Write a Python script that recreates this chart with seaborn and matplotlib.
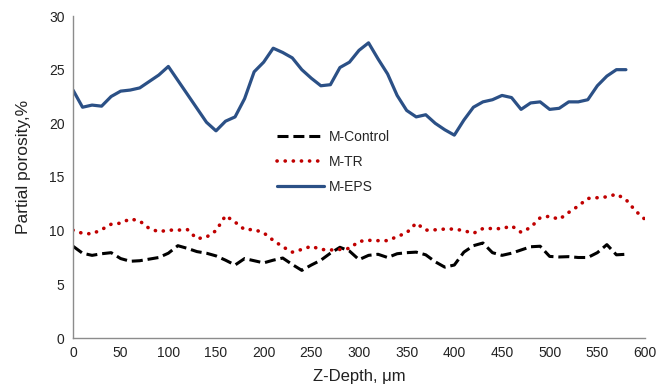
import numpy as np
import pandas as pd
import matplotlib
matplotlib.use("Agg")
import matplotlib.pyplot as plt
import seaborn as sns

sns.set_theme(style="white")
plt.rcParams['font.family'] = ['Liberation Sans', 'DejaVu Sans']

depth_eps = list(range(0, 590, 10))
eps = [23.1, 21.5, 21.7, 21.6, 22.5, 23.0, 23.1, 23.3, 23.9, 24.5,
       25.3, 24.0, 22.7, 21.4, 20.1, 19.3, 20.2, 20.6, 22.3, 24.8,
       25.7, 27.0, 26.6, 26.1, 25.0, 24.2, 23.5, 23.6, 25.2, 25.7,
       26.8, 27.5, 26.0, 24.6, 22.6, 21.2, 20.6, 20.8, 20.0, 19.4,
       18.9, 20.3, 21.5, 22.0, 22.2, 22.6, 22.4, 21.3, 21.9, 22.0,
       21.3, 21.4, 22.0, 22.0, 22.2, 23.5, 24.4, 25.0, 25.0]

depth_tr = list(range(0, 610, 10))
tr = [10.05, 9.75, 9.7, 10.1, 10.6, 10.7, 11.1, 10.9, 10.2, 9.9,
      10.05, 10.05, 10.1, 9.25, 9.4, 10.0, 11.4, 10.8, 10.1, 10.1,
      9.8, 9.1, 8.5, 8.0, 8.25, 8.55, 8.25, 8.2, 8.25, 8.35,
      9.0, 9.1, 9.07, 9.07, 9.45, 9.8, 10.7, 10.05, 10.08, 10.15,
      10.15, 10.0, 9.75, 10.2, 10.2, 10.18, 10.45, 9.85, 10.3, 11.2,
      11.35, 11.05, 11.7, 12.3, 13.0, 13.07, 13.15, 13.4, 12.9, 11.85,
      11.05]

depth_ctrl = list(range(0, 590, 10))
ctrl = [8.55, 7.9, 7.7, 7.85, 7.95, 7.4, 7.15, 7.2, 7.35, 7.5,
        7.9, 8.6, 8.35, 8.05, 7.9, 7.65, 7.25, 6.8, 7.4, 7.2,
        7.0, 7.25, 7.45, 6.85, 6.3, 6.8, 7.25, 7.9, 8.45, 8.1,
        7.3, 7.7, 7.8, 7.5, 7.85, 7.95, 8.0, 7.75, 7.1, 6.6,
        6.8, 8.0, 8.6, 8.85, 7.95, 7.7, 7.9, 8.2, 8.5, 8.55,
        7.6, 7.55, 7.58, 7.5, 7.5, 7.95, 8.7, 7.75, 7.8]

x_ticks = list(range(0, 650, 50))
y_ticks = list(range(0, 35, 5))

fig = plt.figure(figsize=(6.65, 3.91), dpi=100)
ax = fig.add_axes([73/665, 1-338/391, (645-73)/665, (338-16)/391])

sns.lineplot(x=depth_ctrl, y=ctrl, ax=ax, color='black', lw=2.2,
             label='M-Control', linestyle=(0, (3.6, 1.6)))
sns.lineplot(x=depth_tr, y=tr, ax=ax, color='#C00000', lw=2.6,
             label='M-TR', linestyle=(0, (0.05, 2.2)), dash_capstyle='round')
sns.lineplot(x=depth_eps, y=eps, ax=ax, color='#2B5086', lw=2.3,
             label='M-EPS', solid_capstyle='round')

ax.set_xlim(0, 600)
ax.set_ylim(0, 30)
ax.set_xticks(x_ticks)
ax.set_yticks(y_ticks)
ax.tick_params(axis='both', labelsize=10, length=0, pad=6, colors='#222222')
for s in ['top', 'right']:
    ax.spines[s].set_visible(False)
for s in ['left', 'bottom']:
    ax.spines[s].set_color('#8c8c8c')
    ax.spines[s].set_linewidth(1.0)

ax.set_xlabel('Z-Depth, μm', fontsize=12, color='#222222', labelpad=6)
ax.set_ylabel('Partial porosity,%', fontsize=12.5, color='#222222')
ax.yaxis.set_label_coords(-0.074, 0.53)

leg = ax.legend(loc='upper left', bbox_to_anchor=(0.335, 0.685), frameon=False,
                fontsize=10, handlelength=3.4, handletextpad=0.35, labelspacing=0.78)

fig.savefig('out.png', dpi=100)
